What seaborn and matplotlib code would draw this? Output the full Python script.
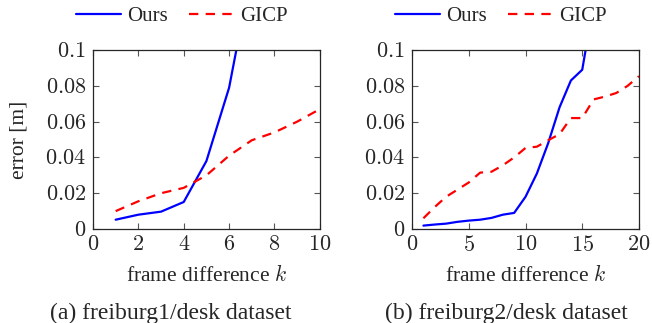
import matplotlib
matplotlib.use("Agg")
import matplotlib.pyplot as plt
import seaborn as sns
import numpy as np

sns.set_style("ticks")
plt.rcParams['font.family'] = ['Liberation Serif', 'DejaVu Serif']
plt.rcParams['mathtext.fontset'] = 'cm'

# freiburg1/desk
k1 = [1, 2, 3, 4, 5, 6, 7]
ours1 = [0.0052, 0.008, 0.0097, 0.0151, 0.038, 0.079, 0.145]
k1g = [1, 2, 3, 4, 5, 6, 7, 8, 9, 10]
gicp1 = [0.010, 0.0155, 0.020, 0.023, 0.030, 0.041, 0.0496, 0.054, 0.060, 0.067]

# freiburg2/desk
k2 = list(range(1, 17))
ours2 = [0.0019, 0.0025, 0.003, 0.004, 0.0047, 0.0052, 0.0062, 0.008, 0.009,
         0.018, 0.031, 0.048, 0.068, 0.083, 0.089, 0.126]
k2g = list(range(1, 21))
gicp2 = [0.006, 0.0123, 0.018, 0.022, 0.026, 0.0315, 0.032, 0.0356, 0.040, 0.0453,
         0.046, 0.0496, 0.053, 0.062, 0.062, 0.0724, 0.074, 0.076, 0.080, 0.0854]

xticks1 = [0, 2, 4, 6, 8, 10]
xticks2 = [0, 5, 10, 15, 20]
yticks = [0, 0.02, 0.04, 0.06, 0.08, 0.1]
ytick_labels = ['0', '0.02', '0.04', '0.06', '0.08', '0.1']
captions = ['(a) freiburg1/desk dataset', '(b) freiburg2/desk dataset']

fig = plt.figure(figsize=(6.52, 3.23), dpi=100)
ax1 = fig.add_axes([0.1426, 0.291, 0.348, 0.554])
ax2 = fig.add_axes([0.632, 0.291, 0.348, 0.554])

# caption centre, in axes fraction, differs a bit between the two panels
panels = [(ax1, k1, ours1, k1g, gicp1, xticks1, 10, 0.344),
          (ax2, k2, ours2, k2g, gicp2, xticks2, 20, 0.414)]

for i, (ax, ko, yo, kg, yg, xt, xmax, cx) in enumerate(panels):
    sns.lineplot(x=ko, y=yo, ax=ax, color='blue', lw=1.6, label='Ours')
    sns.lineplot(x=kg, y=yg, ax=ax, color='red', lw=1.6, linestyle=(0, (4.2, 3.3)), label='GICP')
    ax.set_xlim(0, xmax)
    ax.set_ylim(0, 0.1)
    ax.set_xticks(xt)
    ax.set_xticklabels(['$%d$' % v for v in xt], fontsize=16)
    ax.set_yticks(yticks)
    ax.set_yticklabels(['$%s$' % s for s in ytick_labels], fontsize=16)
    ax.tick_params(direction='in', top=True, right=True, length=4, color='#555555', width=0.8, pad=5)
    for sp in ax.spines.values():
        sp.set_linewidth(0.9)
    ax.set_xlabel('frame difference $k$', fontsize=15.5)
    ax.xaxis.set_label_coords(0.5, -0.2)
    ax.legend(loc='center', bbox_to_anchor=(0.392, 1.19), ncol=2, frameon=False,
              fontsize=15, handlelength=2.15, columnspacing=1.0, handletextpad=0.3,
              borderaxespad=0)
    ax.text(cx, -0.415, captions[i], transform=ax.transAxes, ha='center', va='top', fontsize=17)

ax1.set_ylabel('error [m]', fontsize=15.5)
ax1.yaxis.set_label_coords(-0.286, 0.5)

fig.savefig('out.png', dpi=100)
